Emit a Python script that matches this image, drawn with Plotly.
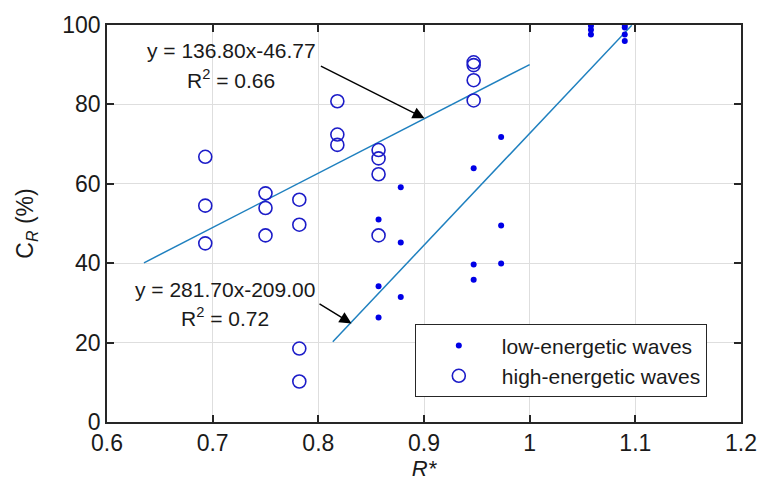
import plotly.graph_objects as go

# ---- data ----
low_x = [0.857, 0.857, 0.857, 0.878, 0.878, 0.878, 0.947, 0.947, 0.947,
         0.973, 0.973, 0.973, 1.058, 1.058, 1.058, 1.090, 1.090, 1.090, 1.090]
low_y = [51.0, 34.2, 26.3, 59.1, 45.2, 31.5, 63.9, 39.7, 35.8,
         71.8, 49.5, 39.9, 99.8, 98.8, 97.6, 100.0, 99.4, 97.6, 96.0]

high_x = [0.693, 0.693, 0.693, 0.750, 0.750, 0.750, 0.782, 0.782, 0.782, 0.782,
          0.818, 0.818, 0.818, 0.857, 0.857, 0.857, 0.857, 0.947, 0.947, 0.947, 0.947]
high_y = [66.8, 54.5, 45.0, 57.6, 53.9, 47.0, 56.0, 49.7, 18.5, 10.2,
          80.8, 72.4, 69.8, 68.5, 66.4, 62.4, 47.0, 90.6, 89.9, 86.1, 81.0]

# fits
fit_high = (136.80, -46.77)
fit_high_x = [0.635, 1.0]
fit_low = (281.70, -209.00)
fit_low_x = [0.8137, 1.0966]

x_ticks = [0.6, 0.7, 0.8, 0.9, 1.0, 1.1, 1.2]
x_tick_labels = ["0.6", "0.7", "0.8", "0.9", "1", "1.1", "1.2"]
y_ticks = [0, 20, 40, 60, 80, 100]

FONT = "Liberation Sans, Arial, sans-serif"
LINE_COLOR = "#1f80bf"
AX = "#262626"

fig = go.Figure()

fig.add_trace(go.Scatter(
    x=fit_high_x, y=[fit_high[0] * v + fit_high[1] for v in fit_high_x],
    mode="lines", line=dict(color=LINE_COLOR, width=1.5), showlegend=False))
fig.add_trace(go.Scatter(
    x=fit_low_x, y=[fit_low[0] * v + fit_low[1] for v in fit_low_x],
    mode="lines", line=dict(color=LINE_COLOR, width=1.5), showlegend=False))

fig.add_trace(go.Scatter(
    x=low_x, y=low_y, mode="markers", name="low-energetic waves",
    marker=dict(symbol="circle", size=6, color="#0000e6", line=dict(width=0))))
fig.add_trace(go.Scatter(
    x=high_x, y=high_y, mode="markers", name="high-energetic waves",
    marker=dict(symbol="circle-open", size=13, color="#1c1cc8", line=dict(width=1.6))))

# text annotations
txt_font = dict(family=FONT, size=21, color="#1a1a1a")
fig.add_annotation(x=0.7175, y=93.7, text="y = 136.80x-46.77", showarrow=False,
                   font=txt_font, xanchor="center", yanchor="middle")
fig.add_annotation(x=0.7175, y=86.5, text="R<sup>2</sup> = 0.66", showarrow=False,
                   font=txt_font, xanchor="center", yanchor="middle")
fig.add_annotation(x=0.7115, y=33.4, text="y = 281.70x-209.00", showarrow=False,
                   font=txt_font, xanchor="center", yanchor="middle")
fig.add_annotation(x=0.7115, y=26.4, text="R<sup>2</sup> = 0.72", showarrow=False,
                   font=txt_font, xanchor="center", yanchor="middle")

# arrows
fig.add_annotation(x=0.9005, y=76.5, ax=0.801, ay=89.8, xref="x", yref="y",
                   axref="x", ayref="y", text="", showarrow=True,
                   arrowhead=2, arrowsize=1.7, arrowwidth=1.4, arrowcolor="black")
fig.add_annotation(x=0.8314, y=24.8, ax=0.7997, ay=30.0, xref="x", yref="y",
                   axref="x", ayref="y", text="", showarrow=True,
                   arrowhead=2, arrowsize=1.7, arrowwidth=1.4, arrowcolor="black")

fig.update_xaxes(
    range=[0.6, 1.2], tickvals=x_ticks, ticktext=x_tick_labels,
    showgrid=True, gridcolor="#dedede", gridwidth=1,
    showline=True, linecolor=AX, linewidth=1.5, mirror="ticks",
    ticks="inside", ticklen=7, tickcolor=AX, tickwidth=1.5,
    tickfont=dict(family=FONT, size=23, color="#1a1a1a"),
    zeroline=False,
    title=dict(text="<i>R*</i>", font=dict(family=FONT, size=22, color="#1a1a1a"), standoff=3))
fig.update_yaxes(
    range=[0, 100], tickvals=y_ticks,
    showgrid=True, gridcolor="#dedede", gridwidth=1,
    showline=True, linecolor=AX, linewidth=1.5, mirror="ticks",
    ticks="inside", ticklen=7, tickcolor=AX, tickwidth=1.5,
    tickfont=dict(family=FONT, size=23, color="#1a1a1a"),
    zeroline=False,
    title=dict(text="C<sub><i>R</i></sub> (%)", font=dict(family=FONT, size=23, color="#1a1a1a"), standoff=22))

fig.update_layout(
    width=769, height=487,
    margin=dict(l=107, r=17, t=23, b=65),
    paper_bgcolor="white", plot_bgcolor="white",
    font=dict(family=FONT, color="#1a1a1a"),
    legend=dict(x=0.4855, y=0.246, xanchor="left", yanchor="top",
                bgcolor="white", bordercolor=AX, borderwidth=1,
                font=dict(family=FONT, size=21, color="#1a1a1a"),
                itemwidth=76, tracegroupgap=0),
)

fig.write_html("out.html")
